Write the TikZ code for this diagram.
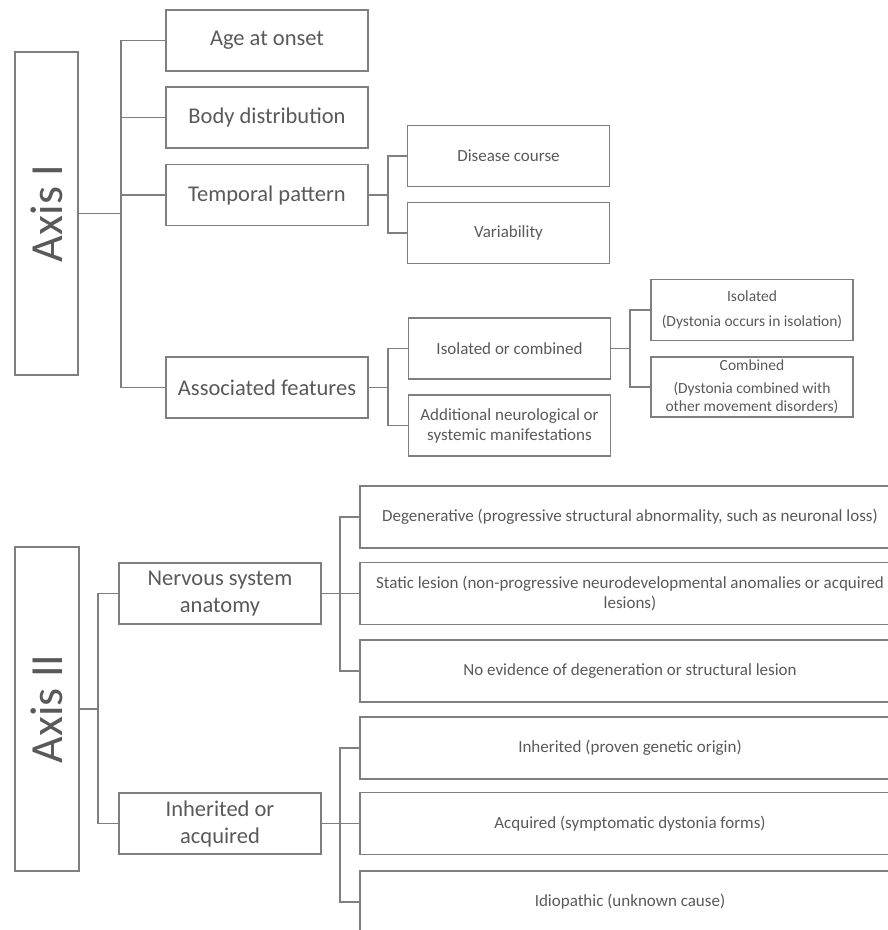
\documentclass[tikz,border=0pt]{standalone}
\usepackage{fontspec}
\setmainfont{Carlito}
\usepackage{tikz}
\definecolor{boxline}{HTML}{7F7F7F}
\definecolor{boxtext}{HTML}{595959}
\tikzset{
  link/.style={draw=boxline, line width=1.2pt},
  axisbox/.style={draw=boxline, line width=1.2pt, rotate=90, minimum width=323pt, minimum height=63pt, inner sep=0pt, text=boxtext, font=\fontsize{46}{50}\selectfont},
  mainbox/.style={draw=boxline, line width=1.2pt, minimum width=202pt, minimum height=61pt, inner sep=2pt, text=boxtext, align=center, font=\fontsize{22.5}{27}\selectfont},
  subbox/.style={mainbox, font=\fontsize{17}{20}\selectfont},
  notebox/.style={mainbox, font=\fontsize{15.5}{18}\selectfont},
  leafbox/.style={mainbox, minimum width=540pt, minimum height=62pt, font=\fontsize{17}{20}\selectfont}
}
\begin{document}
\begin{tikzpicture}[x=1pt, y=-1pt]
\useasboundingbox (0,0) rectangle (888,930);
\clip (0,0) rectangle (888,930);
% Axis I
\node[axisbox] (ax1) at (46.5,213.5) {Axis I};
\node[mainbox] (age) at (267,40.5) {Age at onset};
\node[mainbox] (body) at (267,117.5) {Body distribution};
\node[mainbox] (temp) at (267,195) {Temporal pattern};
\node[mainbox] (assoc) at (267,387.5) {Associated features};
\node[subbox] (course) at (508.5,156) {Disease course};
\node[subbox] (var) at (508.5,233) {Variability};
\node[subbox] (isocomb) at (509.5,348.5) {Isolated or combined};
\node[subbox] (addl) at (509.5,425.5) {Additional neurological or\\systemic manifestations};
\node[notebox] (iso) at (752,310) {Isolated\\[7pt](Dystonia occurs in isolation)};
\node[notebox, minimum height=60pt] (comb) at (752,387) {Combined\\[5pt](Dystonia combined with\\other movement disorders)};
\coordinate (j1) at (121,213.5);
\coordinate (j2) at (388,195);
\coordinate (j3) at (388,387.5);
\coordinate (j4) at (630,348.5);
\draw[link] (ax1.south) -- (j1);
\foreach \n in {age,body,temp,assoc} \draw[link] (j1) |- (\n.west);
\draw[link] (temp.east) -- (j2);
\foreach \n in {course,var} \draw[link] (j2) |- (\n.west);
\draw[link] (assoc.east) -- (j3);
\foreach \n in {isocomb,addl} \draw[link] (j3) |- (\n.west);
\draw[link] (isocomb.east) -- (j4);
\foreach \n in {iso,comb} \draw[link] (j4) |- (\n.west);
% Axis II
\node[axisbox, minimum width=324pt, minimum height=64pt] (ax2) at (47,709) {Axis II};
\node[mainbox] (nerv) at (220,593.5) {Nervous system\\anatomy};
\node[mainbox] (inher) at (220,823.5) {Inherited or\\acquired};
\node[leafbox] (degen) at (630,517) {Degenerative (progressive structural abnormality, such as neuronal loss)};
\node[leafbox] (stat) at (630,593.5) {Static lesion (non-progressive neurodevelopmental anomalies or acquired\\lesions)};
\node[leafbox] (noev) at (630,671) {No evidence of degeneration or structural lesion};
\node[leafbox] (inh) at (630,748) {Inherited (proven genetic origin)};
\node[leafbox] (acq) at (630,823.5) {Acquired (symptomatic dystonia forms)};
\node[leafbox] (idio) at (630,902) {Idiopathic (unknown cause)};
\coordinate (j5) at (98,709);
\coordinate (j6) at (340,593.5);
\coordinate (j7) at (340,823.5);
\draw[link] (ax2.south) -- (j5);
\foreach \n in {nerv,inher} \draw[link] (j5) |- (\n.west);
\draw[link] (nerv.east) -- (j6);
\foreach \n in {degen,stat,noev} \draw[link] (j6) |- (\n.west);
\draw[link] (inher.east) -- (j7);
\foreach \n in {inh,acq,idio} \draw[link] (j7) |- (\n.west);
\end{tikzpicture}
\end{document}
